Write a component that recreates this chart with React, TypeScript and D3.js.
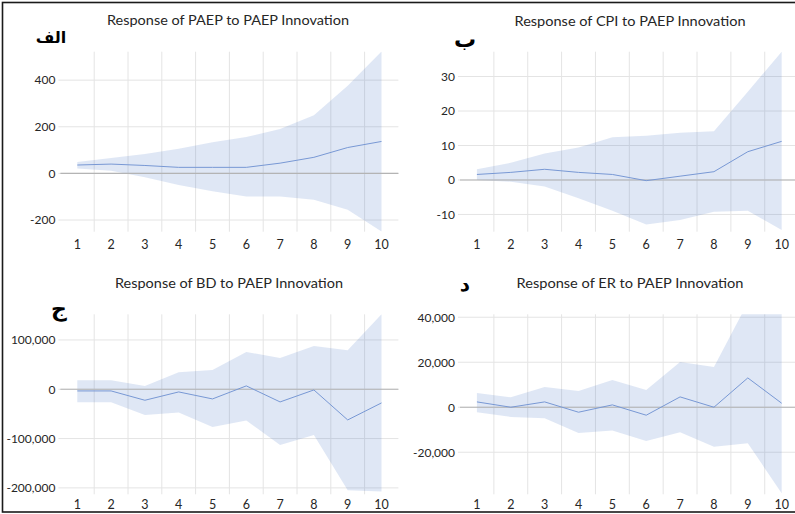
import React from "react";
import * as d3 from "d3";

const periods = [1, 2, 3, 4, 5, 6, 7, 8, 9, 10];

// Panel A: PAEP
const paepMid = [36, 40, 34, 26, 26, 26, 44, 69, 111, 137];
const paepUp = [49, 66, 83, 106, 134, 156, 191, 249, 376, 523];
const paepLo = [21, 11, -17, -50, -77, -99, -99, -113, -156, -249];
const paepTicks = [-200, 0, 200, 400];

// Panel B: CPI
const cpiMid = [1.6, 2.2, 3.1, 2.2, 1.6, -0.2, 1.1, 2.4, 8.2, 11.2];
const cpiUp = [3.1, 5.0, 7.7, 9.4, 12.4, 12.8, 13.7, 14.1, 25.6, 37.2];
const cpiLo = [0, -0.5, -1.9, -5.3, -8.9, -12.9, -11.6, -9.2, -8.9, -14.5];
const cpiTicks = [-10, 0, 10, 20, 30];

// Panel C: BD
const bdMid = [-3400, -3400, -22300, -5400, -19600, 6800, -25700, -1400, -62200, -27700];
const bdUp = [18200, 18200, 6800, 34500, 39200, 75700, 63500, 87800, 79000, 152000];
const bdLo = [-26400, -26400, -52000, -47300, -76400, -63500, -112800, -92600, -204700, -207400];
const bdTicks = [-200000, -100000, 0, 100000];

// Panel D: ER
const erMid = [2370, 0, 2370, -2220, 1040, -3550, 4590, 0, 13030, 1780];
const erUp = [6370, 4440, 9030, 7260, 12140, 7700, 20140, 17920, 46500, 60000];
const erLo = [-2220, -4300, -4890, -11400, -10370, -14960, -11110, -17620, -16000, -38200];
const erTicks = [-20000, 0, 20000, 40000];

const titles = [
  "Response of PAEP to PAEP Innovation",
  "Response of CPI to PAEP Innovation",
  "Response of BD to PAEP Innovation",
  "Response of ER to PAEP Innovation",
];
const arabicLabels = ["الف", "ب", "ج", "د"];

type PanelCfg = {
  mid: number[];
  up: number[];
  lo: number[];
  ticks: number[];
  domain: [number, number];
  x0: number;
  x1: number;
  top: number;
  bottom: number;
  title: string;
  titleX: number;
  titleY: number;
  titleW: number;
  label: string;
  labelX: number;
  labelY: number;
  labelSize: number;
  xLabelY: number;
  plotRight: number;
};

const panels: PanelCfg[] = [
  {
    mid: paepMid, up: paepUp, lo: paepLo, ticks: paepTicks,
    domain: [-250, 522], x0: 60.4, x1: 398.4, top: 51.7, bottom: 231.7,
    title: titles[0], titleX: 228, titleY: 25, titleW: 242,
    label: arabicLabels[0], labelX: 51, labelY: 43, labelSize: 16, xLabelY: 249, plotRight: 398.4,
  },
  {
    mid: cpiMid, up: cpiUp, lo: cpiLo, ticks: cpiTicks,
    domain: [-15, 37.2], x0: 460, x1: 798.6, top: 51.7, bottom: 231.7,
    title: titles[1], titleX: 630, titleY: 25.5, titleW: 231,
    label: arabicLabels[1], labelX: 465, labelY: 47, labelSize: 22, xLabelY: 249, plotRight: 800,
  },
  {
    mid: bdMid, up: bdUp, lo: bdLo, ticks: bdTicks,
    domain: [-213000, 152000], x0: 60.4, x1: 398.4, top: 314.3, bottom: 494.3,
    title: titles[2], titleX: 229, titleY: 287.5, titleW: 228,
    label: arabicLabels[2], labelX: 59, labelY: 316, labelSize: 22, xLabelY: 509, plotRight: 398.4,
  },
  {
    mid: erMid, up: erUp, lo: erLo, ticks: erTicks,
    domain: [-38700, 41300], x0: 460, x1: 798.6, top: 314.3, bottom: 494.3,
    title: titles[3], titleX: 630, titleY: 287.5, titleW: 227,
    label: arabicLabels[3], labelX: 465, labelY: 291, labelSize: 20, xLabelY: 509, plotRight: 800,
  },
];

const locale = d3.formatLocale({ decimal: ".", thousands: ",", grouping: [3], currency: ["", ""], minus: "-" });
const fmt = locale.format(",");

function Panel({ p, idx }: { p: PanelCfg; idx: number }) {
  const x = d3.scaleBand<number>().domain(periods).range([p.x0, p.x1]).paddingInner(0).paddingOuter(0);
  const y = d3.scaleLinear().domain(p.domain).range([p.bottom, p.top]);
  const cx = (d: number) => (x(d) as number) + x.bandwidth() / 2;
  const rows = periods.map((d, i) => ({ d, mid: p.mid[i], up: p.up[i], lo: p.lo[i] }));
  const area = d3
    .area<(typeof rows)[number]>()
    .x((r) => cx(r.d))
    .y0((r) => y(r.lo))
    .y1((r) => y(r.up));
  const line = d3
    .line<(typeof rows)[number]>()
    .x((r) => cx(r.d))
    .y((r) => y(r.mid));
  const clipId = `clip-${idx}`;
  const font = "Lato, 'Open Sans', sans-serif";
  return (
    <g>
      <defs>
        <clipPath id={clipId}>
          <rect x={p.x0} y={p.top} width={p.plotRight - p.x0} height={p.bottom - p.top} />
        </clipPath>
      </defs>
      {p.ticks.map((t) => (
        <line key={"h" + t} x1={p.x0 - 2} x2={p.plotRight} y1={y(t)} y2={y(t)} stroke="#e4e4e4" strokeWidth={1} />
      ))}
      {periods.slice(1).map((d) => (
        <line key={"v" + d} x1={x(d)} x2={x(d)} y1={p.top} y2={p.bottom} stroke="#e4e4e4" strokeWidth={1} />
      ))}
      <g clipPath={`url(#${clipId})`}>
        <path d={area(rows) || ""} fill="rgb(68,114,196)" fillOpacity={0.17} stroke="none" />
      </g>
      <line x1={p.x0} x2={p.plotRight} y1={y(0)} y2={y(0)} stroke="#b4b4b4" strokeWidth={1.2} />
      <g clipPath={`url(#${clipId})`}>
        <path d={line(rows) || ""} fill="none" stroke="#7898d4" strokeWidth={1} />
      </g>
      {p.ticks.map((t) => (
        <text key={"yl" + t} x={p.x0 - 5} y={y(t) + 4.3} textAnchor="end" fontFamily={font} fontSize={12} fill="#262626">
          {fmt(t)}
        </text>
      ))}
      {periods.map((d) => (
        <text key={"xl" + d} x={cx(d)} y={p.xLabelY} textAnchor="middle" fontFamily={font} fontSize={12.5} fill="#262626">
          {d}
        </text>
      ))}
      <text
        x={p.titleX}
        y={p.titleY}
        textAnchor="middle"
        fontFamily={font}
        fontSize={13}
        fill="#262626"
        textLength={p.titleW}
        lengthAdjust="spacingAndGlyphs"
      >
        {p.title}
      </text>
      <text
        x={p.labelX}
        y={p.labelY}
        textAnchor="middle"
        fontFamily="'DejaVu Sans', sans-serif"
        fontWeight="bold"
        fontSize={p.labelSize}
        fill="#000"
        direction="rtl"
      >
        {p.label}
      </text>
    </g>
  );
}

export default function App() {
  return (
    <svg
      width={795}
      height={514}
      viewBox="0 0 795 514"
      style={{ position: "absolute", left: 0, top: 0, background: "#fff" }}
    >
      <rect x={0} y={0} width={795} height={514} fill="#fff" />
      {panels.map((p, i) => (
        <Panel key={i} p={p} idx={i} />
      ))}
      <rect x={2.5} y={2.5} width={820} height={509.5} fill="none" stroke="#1a1a1a" strokeWidth={1.6} />
    </svg>
  );
}
